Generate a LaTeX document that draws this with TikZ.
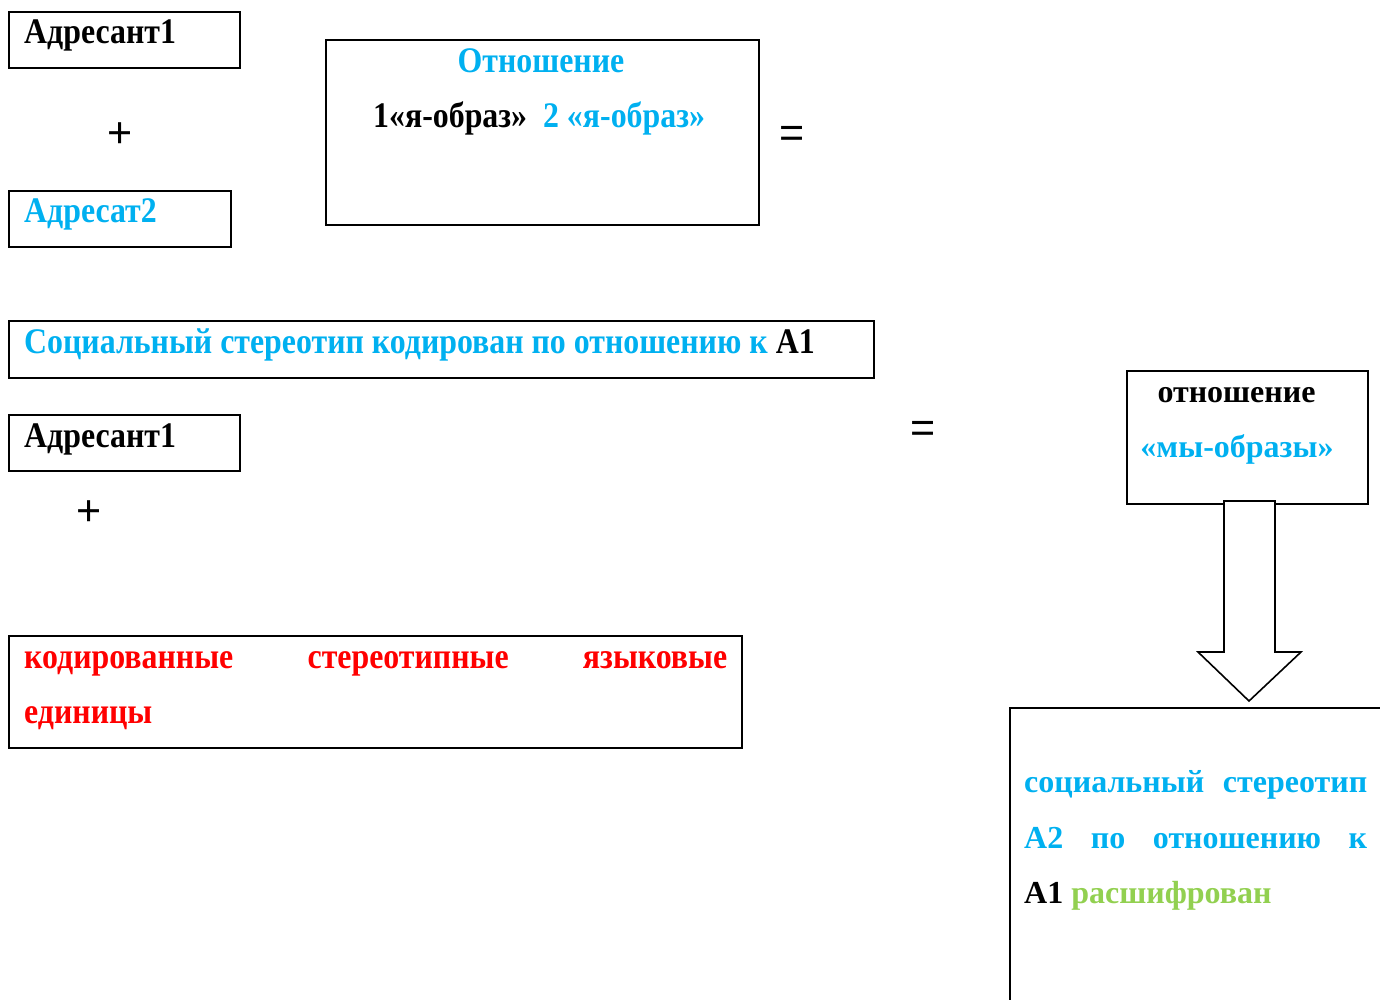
\documentclass[tikz,border=0pt]{standalone}
\usepackage{fontspec}
\setmainfont{Liberation Serif}
\newfontfamily\condf{Liberation Serif}[FakeStretch=0.885]
\newfontfamily\signf{Liberation Sans}
\definecolor{myblue}{HTML}{00B0F0}
\definecolor{myred}{HTML}{FF0000}
\definecolor{mygreen}{HTML}{92D050}
\begin{document}
\begin{tikzpicture}[x=1pt,y=-1pt,
  box/.style={draw, line width=2pt, inner sep=0pt, outer sep=0pt},
  lt/.style={anchor=base west, inner sep=0pt, font=\condf\bfseries\fontsize{36}{40}\selectfont},
  rt/.style={anchor=base west, inner sep=0pt, font=\bfseries\fontsize{32}{36}\selectfont},
  sign/.style={inner sep=0pt, font=\signf\fontsize{43}{47}\selectfont}]
\useasboundingbox (0,0) rectangle (1380,999);
% boxes
\node[box, minimum width=231pt, minimum height=56pt] (b1) at (124.5,40) {};
\node[box, minimum width=222pt, minimum height=56pt] (b2) at (120,219) {};
\node[box, minimum width=433pt, minimum height=185pt] (b3) at (542.5,132.5) {};
\node[box, minimum width=865pt, minimum height=57pt] (b4) at (441.5,349.5) {};
\node[box, minimum width=231pt, minimum height=56pt] (b5) at (124.5,443) {};
\node[box, minimum width=241pt, minimum height=133pt] (b6) at (1247.5,437.5) {};
\node[box, minimum width=733pt, minimum height=112pt] (b7) at (375.5,692) {};
\node[box, minimum width=490pt, minimum height=392pt] (b8) at (1255,904) {};
% block arrow
\draw[line width=1.6pt, fill=white, line join=miter]
  (1224,501) -- (1224,652) -- (1198,652) -- (1249,701) -- (1301,652) -- (1275,652) -- (1275,501) -- cycle;
% signs
\node[sign] (p1) at (120,135) {+};
\node[sign] (p2) at (89,513) {+};
\node[sign] (e1) at (792,137) {=};
\node[sign] (e2) at (923,432) {=};
% left texts
\node[lt] (t1) at (24,43) {Адресант1};
\node[lt, anchor=base, text=myblue] (t2) at (541,72) {Отношение};
\node[lt] (t3) at (373,127) {1«я-образ»\ \ {\color{myblue}2 «я-образ»}};
\node[lt, text=myblue] (t4) at (24,222) {Адресат2};
\node[lt, text=myblue] (t5) at (24,353) {Социальный стереотип кодирован по отношению к {\color{black}А1}};
\node[lt] (t6) at (24,447) {Адресант1};
\node[lt, text=myred] (t7) at (24,668) {\hbox to 703pt{кодированные\hfill стереотипные\hfill языковые}};
\node[lt, text=myred] (t8) at (24,723) {единицы};
% right texts
\node[rt, anchor=base] (r1) at (1236.5,402) {отношение};
\node[rt, anchor=base, text=myblue] (r2) at (1237,457) {«мы-образы»};
\node[rt, text=myblue] (r3) at (1024,792) {\hbox to 343pt{социальный\hfill стереотип}};
\node[rt, text=myblue] (r4) at (1024,848) {\hbox to 343pt{А2\hfill по\hfill отношению\hfill к}};
\node[rt] (r5) at (1024,903) {А1 {\color{mygreen}расшифрован}};
\end{tikzpicture}
\end{document}
